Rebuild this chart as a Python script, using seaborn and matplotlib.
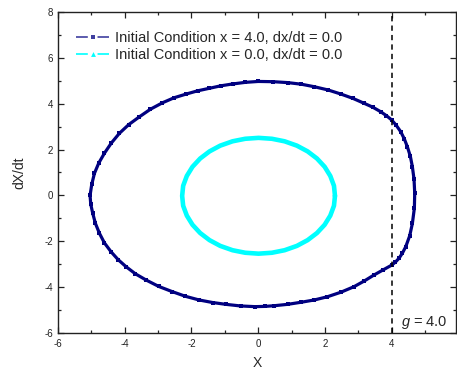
import matplotlib
matplotlib.use("Agg")
import matplotlib.pyplot as plt
from matplotlib.lines import Line2D
from matplotlib.ticker import MultipleLocator
import seaborn as sns

# Phase-plane trajectory started at x = 4.0, dx/dt = 0.0
orbit_x = [0.00, 0.44, 0.88, 1.29, 1.68, 2.09, 2.48, 2.84, 3.17, 3.43, 3.67, 3.84,
           4.00, 4.14, 4.27, 4.38, 4.47, 4.56, 4.62, 4.67, 4.69, 4.68, 4.62, 4.54,
           4.42, 4.32, 4.22, 4.11, 4.00, 3.74, 3.47, 3.18, 2.87, 2.48, 2.07, 1.68,
           1.28, 0.88, 0.48, 0.19, -0.10, -0.53, -0.97, -1.37, -1.77, -2.18, -2.57,
           -2.98, -3.36, -3.68, -3.96, -4.20, -4.41, -4.61, -4.76, -4.88, -4.96,
           -5.02, -5.04, -4.99, -4.91, -4.78, -4.61, -4.40, -4.16, -3.88, -3.56,
           -3.23, -2.87, -2.52, -2.16, -1.82, -1.47, -1.12, -0.77, -0.39, 0.00]
orbit_y = [4.97, 4.96, 4.92, 4.85, 4.74, 4.60, 4.42, 4.23, 4.02, 3.85, 3.65, 3.48,
           3.29, 3.05, 2.78, 2.46, 2.12, 1.70, 1.25, 0.70, 0.10, -0.55, -1.22, -1.76,
           -2.24, -2.52, -2.74, -2.91, -3.04, -3.25, -3.47, -3.73, -3.98, -4.22, -4.42, -4.56,
           -4.66, -4.75, -4.81, -4.84, -4.85, -4.82, -4.75, -4.67, -4.56, -4.40, -4.20,
           -3.97, -3.69, -3.42, -3.11, -2.80, -2.46, -2.07, -1.65, -1.22, -0.78,
           -0.38, 0.00, 0.48, 0.96, 1.41, 1.84, 2.29, 2.71, 3.09, 3.43,
           3.76, 4.04, 4.26, 4.42, 4.56, 4.67, 4.78, 4.86, 4.93, 4.97]

# Phase-plane trajectory started at x = 0.0, dx/dt = 0.0
inner_x = [2.30, 2.27, 2.16, 1.99, 1.76, 1.48, 1.16, 0.79, 0.41, 0.01, -0.39, -0.77,
           -1.14, -1.46, -1.74, -1.97, -2.14, -2.25, -2.28, -2.25, -2.14, -1.97, -1.74,
           -1.46, -1.14, -0.77, -0.39, 0.01, 0.41, 0.79, 1.16, 1.48, 1.76, 1.99, 2.16,
           2.27, 2.30]
inner_y = [-0.02, 0.42, 0.85, 1.25, 1.61, 1.92, 2.17, 2.36, 2.47, 2.51, 2.47, 2.36,
           2.17, 1.92, 1.61, 1.25, 0.85, 0.42, -0.02, -0.45, -0.88, -1.28, -1.64,
           -1.95, -2.20, -2.39, -2.50, -2.54, -2.50, -2.39, -2.20, -1.95, -1.64, -1.28, -0.88,
           -0.45, -0.02]

g_value = 4.0
series_labels = ["Initial Condition x = 4.0, dx/dt = 0.0",
                 "Initial Condition x = 0.0, dx/dt = 0.0"]
x_ticks = [-6, -4, -2, 0, 2, 4]
y_ticks = [-6, -4, -2, 0, 2, 4, 6, 8]

sns.set_style("ticks")
plt.rcParams["font.family"] = ["Liberation Sans", "DejaVu Sans"]
plt.rcParams["mathtext.fontset"] = "custom"
plt.rcParams["mathtext.it"] = "Liberation Sans:italic"
plt.rcParams["mathtext.rm"] = "Liberation Sans"
plt.rcParams["lines.scale_dashes"] = False

NAVY = "#000080"
CYAN = "#00FFFF"

fig = plt.figure(figsize=(4.57, 3.74), dpi=100)
ax = fig.add_axes([0.127, 0.1096, 0.871, 0.8584])

sns.lineplot(x=orbit_x, y=orbit_y, sort=False, estimator=None, ax=ax,
             color=NAVY, linewidth=2.3, marker="s", markersize=3.3,
             markeredgewidth=0, markerfacecolor=NAVY,
             solid_joinstyle="round", solid_capstyle="round")
sns.lineplot(x=inner_x, y=inner_y, sort=False, estimator=None, ax=ax,
             color=CYAN, linewidth=3.3,
             solid_joinstyle="round", solid_capstyle="round")

ax.axvline(g_value, color="black", linewidth=1.1, linestyle=(0, (3.8, 3.0)))
ax.text(4.27, -5.56, r"$g$ = 4.0", fontsize=10.5, ha="left", va="center")

ax.set_xlim(-6, 5.93)
ax.set_ylim(-6, 8)
ax.set_xticks(x_ticks)
ax.set_yticks(y_ticks)
ax.set_xticklabels([str(v) for v in x_ticks])
ax.set_yticklabels([str(v) for v in y_ticks])
ax.xaxis.set_minor_locator(MultipleLocator(1))
ax.yaxis.set_minor_locator(MultipleLocator(1))
ax.tick_params(which="both", direction="in", top=True, right=True,
               labelsize=7, colors="#222222", width=0.9)
ax.tick_params(which="major", length=4)
ax.tick_params(which="minor", length=2.5)
ax.tick_params(axis="y", pad=3.5)
ax.tick_params(axis="x", pad=4.5)
for s in ax.spines.values():
    s.set_linewidth(1.0)
    s.set_color("#222222")

ax.set_xlabel("X", fontsize=10, labelpad=5)
ax.set_ylabel("dX/dt", fontsize=10, labelpad=13)

handles = [
    Line2D([], [], color=NAVY, linewidth=1.2, linestyle=(0, (8.5, 7.0)),
           marker="s", markersize=3.2, markeredgewidth=0, alpha=0.75),
    Line2D([], [], color=CYAN, linewidth=1.2, linestyle=(0, (8.5, 7.0)),
           marker="^", markersize=3.5, markeredgewidth=0),
]
ax.legend(handles, series_labels, loc="upper left", frameon=False,
          bbox_to_anchor=(0.045, 0.94), borderaxespad=0, borderpad=0,
          fontsize=10.5, handlelength=2.3, handletextpad=0.35,
          labelspacing=0.2, numpoints=1)

fig.savefig("out.png", dpi=100)
